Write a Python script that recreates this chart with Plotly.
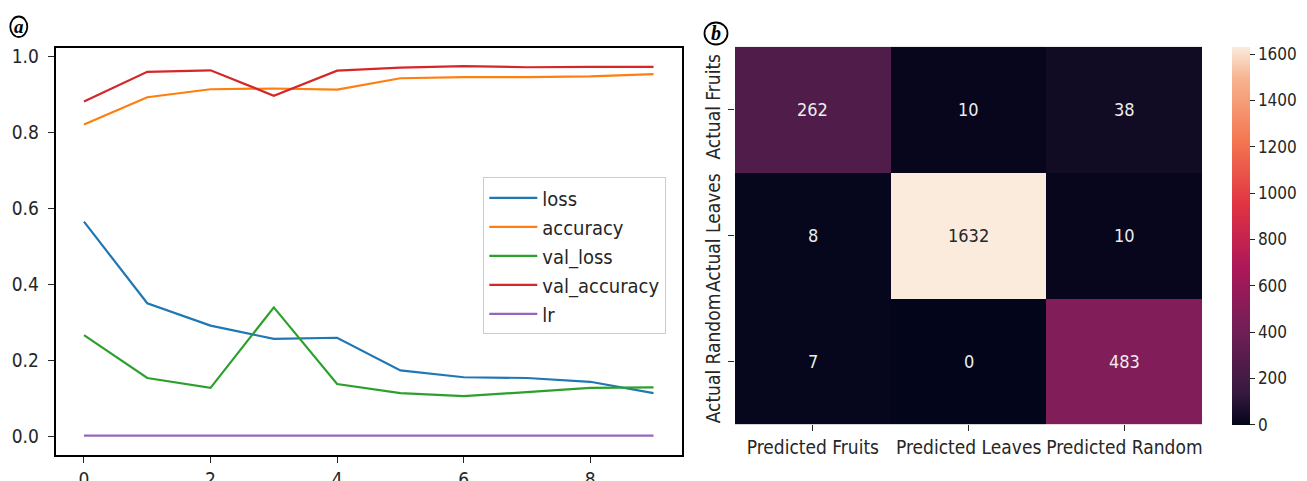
import plotly.graph_objects as go

W, H = 1307, 481

# ---- data: training history (panel a) ----
epochs = [0, 1, 2, 3, 4, 5, 6, 7, 8, 9]
loss = [0.565, 0.350, 0.291, 0.256, 0.259, 0.173, 0.155, 0.153, 0.143, 0.113]
accuracy = [0.821, 0.893, 0.914, 0.916, 0.913, 0.943, 0.946, 0.946, 0.948, 0.954]
val_loss = [0.266, 0.153, 0.127, 0.339, 0.137, 0.113, 0.105, 0.115, 0.127, 0.128]
val_accuracy = [0.882, 0.960, 0.964, 0.897, 0.963, 0.971, 0.975, 0.972, 0.973, 0.973]
lr = [0.001] * 10
series_names = ["loss", "accuracy", "val_loss", "val_accuracy", "lr"]
series_colors = ["#1f77b4", "#ff7f0e", "#2ca02c", "#d62728", "#9467bd"]
x_ticks = [0, 2, 4, 6, 8]
y_ticks = [0.0, 0.2, 0.4, 0.6, 0.8, 1.0]

# ---- data: confusion matrix (panel b) ----
pred_labels = ["Predicted Fruits", "Predicted Leaves", "Predicted Random"]
actual_labels = ["Actual Fruits", "Actual Leaves", "Actual Random"]
conf = [[262, 10, 38],
        [8, 1632, 10],
        [7, 0, 483]]
cbar_ticks = [0, 200, 400, 600, 800, 1000, 1200, 1400, 1600]

rocket = [
    [0.0, "rgb(3,5,26)"],
    [0.0833, "rgb(53,25,62)"],
    [0.25, "rgb(112,31,87)"],
    [0.4167, "rgb(173,23,89)"],
    [0.5833, "rgb(225,51,66)"],
    [0.75, "rgb(243,118,81)"],
    [0.9167, "rgb(246,180,143)"],
    [1.0, "rgb(250,235,221)"],
]


def fx(px):
    return px / W


def fy(py):
    return 1 - py / H


FONT = "DejaVu Sans Condensed, DejaVu Sans"
TXT = "#262626"

fig = go.Figure()

for name, vals, col in zip(series_names, [loss, accuracy, val_loss, val_accuracy, lr], series_colors):
    fig.add_trace(go.Scatter(x=epochs, y=vals, mode="lines", name=name,
                             line=dict(color=col, width=2.2),
                             legendgroup=name, xaxis="x", yaxis="y"))

fig.add_trace(go.Heatmap(
    z=conf, x=pred_labels, y=actual_labels, xaxis="x2", yaxis="y2",
    colorscale=rocket, showscale=True, xgap=0, ygap=0,
    colorbar=dict(x=fx(1231.5), xanchor="left", y=fy(46.7), yanchor="top",
                  len=(424.3 - 46.7) / H, lenmode="fraction",
                  thickness=18, thicknessmode="pixels", outlinewidth=0,
                  ticks="outside", ticklen=5, tickcolor=TXT, tickvals=cbar_ticks,
                  tickfont=dict(family=FONT, size=17, color=TXT), xpad=0, ypad=0),
    showlegend=False, hoverinfo="skip"))

zmax = max(max(r) for r in conf)
annotations = []
for i, row in enumerate(conf):
    for j, v in enumerate(row):
        annotations.append(dict(x=pred_labels[j], y=actual_labels[i], xref="x2", yref="y2",
                                text=str(v), showarrow=False,
                                font=dict(family=FONT, size=18,
                                          color="#262626" if v > zmax / 2 else "#ececec")))

# panel labels (circled a / b)
annotations.append(dict(x=fx(18.8), y=fy(26.3), xref="paper", yref="paper", text="<b><i>a</i></b>",
                        xanchor="center", yanchor="middle",
                        showarrow=False, font=dict(family="Liberation Serif", size=19, color="black")))
annotations.append(dict(x=fx(716.0), y=fy(33.2), xref="paper", yref="paper", text="<b><i>b</i></b>",
                        xanchor="center", yanchor="middle",
                        showarrow=False, font=dict(family="Liberation Serif", size=20, color="black")))

shapes = [
    dict(type="circle", xref="paper", yref="paper",
         x0=fx(10.3), x1=fx(27.3), y0=fy(37.0), y1=fy(16.5), line=dict(color="black", width=1.8)),
    dict(type="circle", xref="paper", yref="paper",
         x0=fx(704.5), x1=fx(727.5), y0=fy(44.5), y1=fy(22.5), line=dict(color="black", width=1.8)),
]

axis_common = dict(showgrid=False, zeroline=False, ticks="outside", tickcolor=TXT,
                   tickfont=dict(family=FONT, size=19, color=TXT), automargin=False)

fig.update_layout(
    width=W, height=H, autosize=False,
    margin=dict(l=0, r=0, t=0, b=0),
    paper_bgcolor="white", plot_bgcolor="white",
    template="none",
    xaxis=dict(domain=[fx(55.5), fx(682)], range=[-0.45, 9.45], tickvals=x_ticks,
               showline=True, mirror=True, linecolor="black", linewidth=1.5,
               ticklen=6, tickwidth=1.2, anchor="y", **axis_common),
    yaxis=dict(domain=[fy(455), fy(48.3)], range=[-0.05, 1.022], tickvals=y_ticks, tickformat=".1f",
               showline=True, mirror=True, linecolor="black", linewidth=1.5,
               ticklen=6, tickwidth=1.2, anchor="x", ticklabelstandoff=5, **axis_common),
    xaxis2=dict(domain=[fx(735), fx(1202.3)], anchor="y2", showline=False,
                ticklen=6, tickwidth=1.2, **axis_common),
    yaxis2=dict(domain=[fy(424.3), fy(46.7)], anchor="x2", showline=False, autorange="reversed",
                tickangle=-90, ticklen=6, tickwidth=1.2, **axis_common),
    legend=dict(x=fx(483.3), y=fy(177.3), xanchor="left", yanchor="top",
                bordercolor="#cccccc", borderwidth=1, bgcolor="white",
                font=dict(family=FONT, size=20, color=TXT), tracegroupgap=0,
                itemwidth=48),
    annotations=annotations,
    shapes=shapes,
    showlegend=True,
)

fig.write_html("out.html", config={"displayModeBar": False},
               post_script="document.body.style.margin='0px';document.body.style.padding='0px';")
